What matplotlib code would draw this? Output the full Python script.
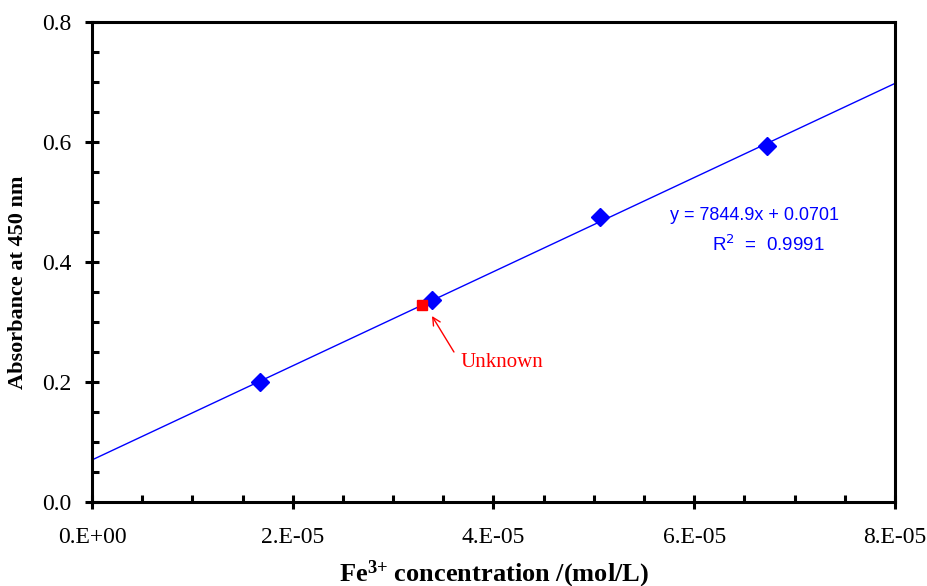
import numpy as np
import matplotlib
matplotlib.use("Agg")
import matplotlib.pyplot as plt
from matplotlib.ticker import MultipleLocator, FuncFormatter

# данные калибровки
conc = [1.674e-5, 3.387e-5, 5.06e-5, 6.725e-5]
absorb = [0.200, 0.337, 0.475, 0.593]
unknown_conc = [3.29e-5]
unknown_abs = [0.329]
slope = 7844.9
intercept = 0.0701
x_ticks = [0, 2e-5, 4e-5, 6e-5, 8e-5]
x_tick_labels = ["0.E+00", "2.E-05", "4.E-05", "6.E-05", "8.E-05"]

serif = ["Liberation Serif", "DejaVu Serif"]
sans = ["Liberation Sans", "DejaVu Sans"]

plt.rcParams["font.family"] = serif
plt.rcParams["font.size"] = 14
plt.rcParams["mathtext.fontset"] = "custom"
plt.rcParams["mathtext.rm"] = "Liberation Serif:bold"
plt.rcParams["mathtext.it"] = "Liberation Serif:bold"
plt.rcParams["mathtext.bf"] = "Liberation Serif:bold"

fig = plt.figure(figsize=(9.28, 5.86), dpi=100)
ax = fig.add_axes([92 / 928, 84 / 586, 803 / 928, 480 / 586])

# линия тренда
xl = np.array([0, 8e-5])
ax.plot(xl, slope * xl + intercept, color="blue", lw=1.0, zorder=2)
ax.plot(conc, absorb, linestyle="none", marker="D", color="blue", ms=9.5, zorder=3)
ax.plot(unknown_conc, unknown_abs, linestyle="none", marker="s", color="red", ms=7.5, zorder=4)

ax.set_xlim(0, 8e-5)
ax.set_ylim(0, 0.8)
ax.set_xticks(x_ticks)
ax.set_xticklabels(x_tick_labels)
ax.xaxis.set_minor_locator(MultipleLocator(0.5e-5))
ax.yaxis.set_major_locator(MultipleLocator(0.2))
ax.yaxis.set_minor_locator(MultipleLocator(0.05))
ax.yaxis.set_major_formatter(FuncFormatter(lambda v, p: f"{v:.1f}"))

for s in ax.spines.values():
    s.set_linewidth(2.2)
ax.tick_params(which="major", direction="inout", length=10, width=2.2,
               labelsize=17)
ax.tick_params(axis="x", which="major", pad=13)
ax.tick_params(axis="y", which="major", pad=10)
ax.tick_params(which="minor", direction="in", length=5, width=2.2)

ax.set_xlabel("Fe$^{3{+}}$ concentration /(mol/L)", fontsize=19, fontweight="bold",
              labelpad=8)
ax.set_ylabel("Absorbance at 450 nm", fontsize=16, fontweight="bold")
ax.yaxis.set_label_coords(-0.08, 0.458)

ax.text(6.6e-5, 0.478, "y = 7844.9x + 0.0701", color="blue", fontsize=13,
        family=sans, ha="center", va="center")
ax.text(6.74e-5, 0.428, "R$^{\\mathsf{2}}$  =  0.9991", color="blue", fontsize=13.5,
        family=sans, ha="center", va="center")

# стрелка к неизвестному образцу
ax.annotate("", xy=(3.387e-5, 0.310), xytext=(3.606e-5, 0.25),
            arrowprops=dict(arrowstyle="->", color="red", lw=1.0,
                            shrinkA=0, shrinkB=0))
ax.text(3.676e-5, 0.233, "Unknown", color="red", fontsize=15,
        ha="left", va="center")

fig.savefig("out.png", dpi=100)
